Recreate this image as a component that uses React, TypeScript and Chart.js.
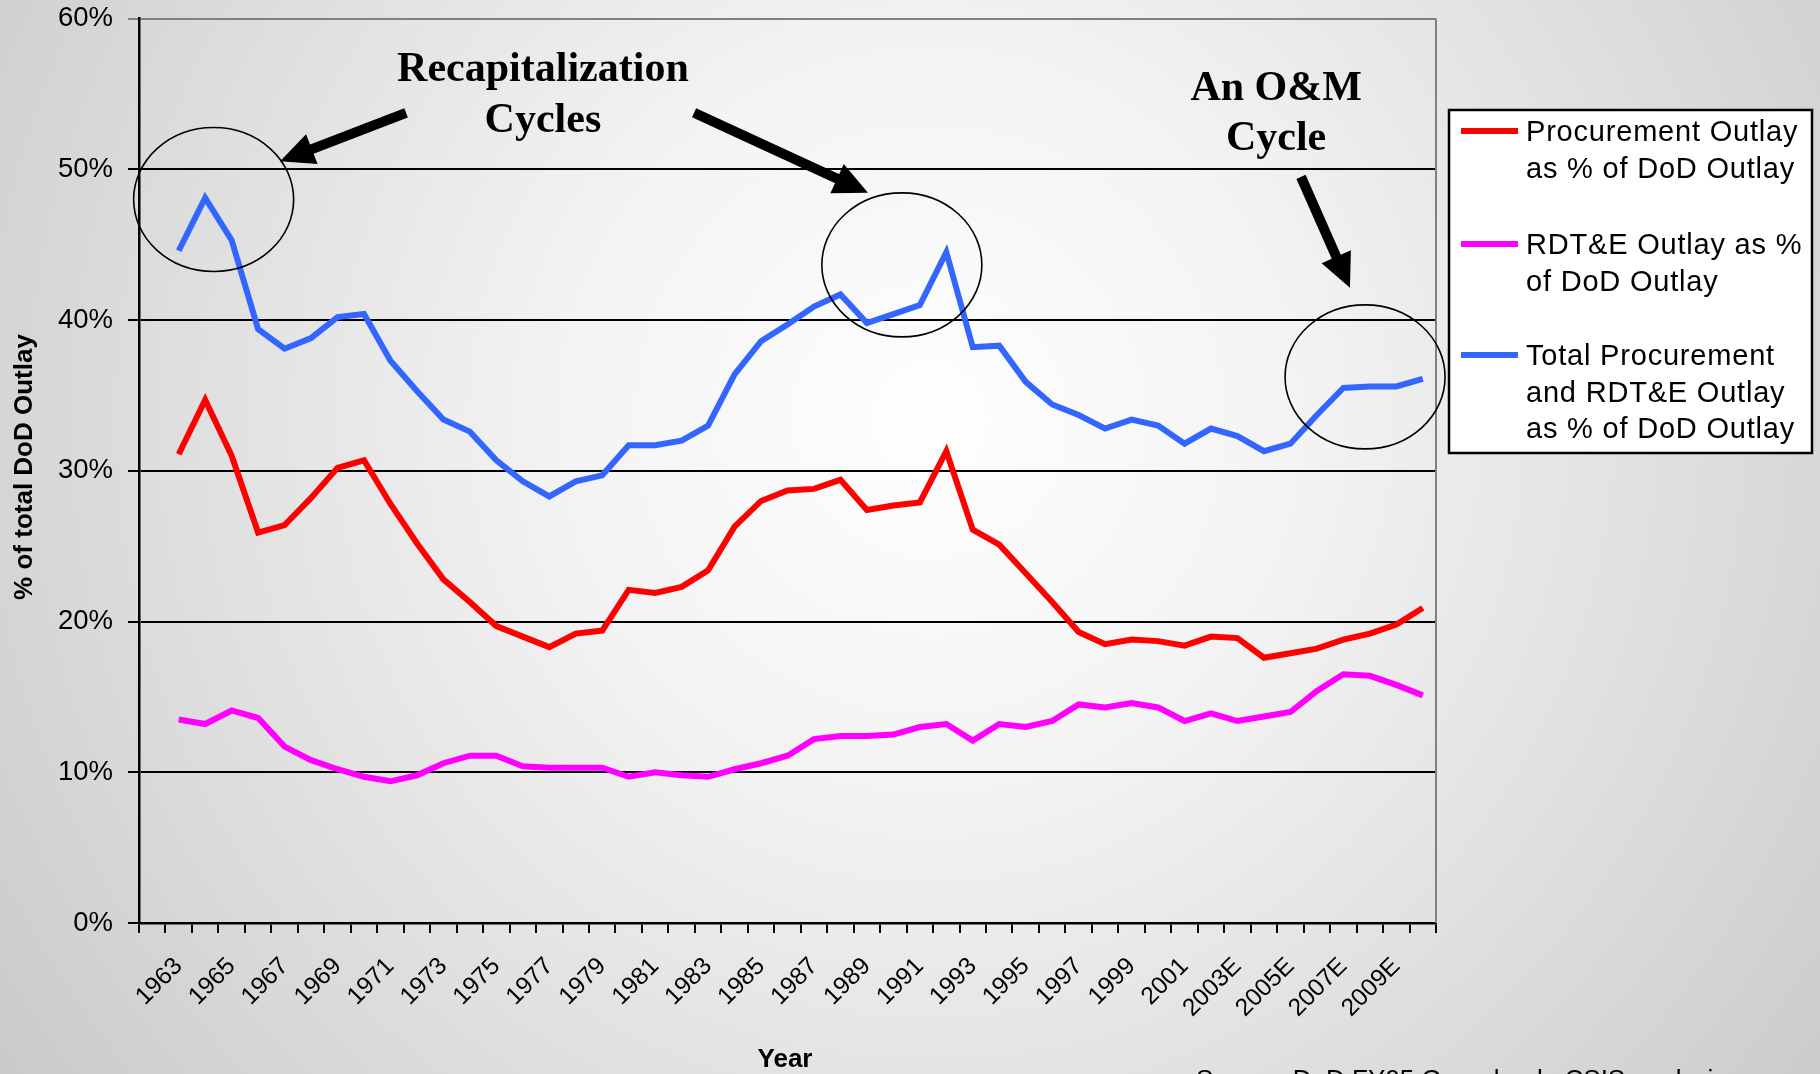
import { useEffect, useRef } from "react";
import { Chart, registerables } from "chart.js";

Chart.register(...registerables);

// ---------- data ----------
const categories = [
  "", "1963", "1964", "1965", "1966", "1967", "1968", "1969", "1970", "1971", "1972",
  "1973", "1974", "1975", "1976", "1977", "1978", "1979", "1980", "1981", "1982",
  "1983", "1984", "1985", "1986", "1987", "1988", "1989", "1990", "1991", "1992",
  "1993", "1994", "1995", "1996", "1997", "1998", "1999", "2000", "2001", "2002",
  "2003E", "2004E", "2005E", "2006E", "2007E", "2008E", "2009E", "2010E",
];

const procurement = [
  null, 31.1, 34.7, 31.0, 25.9, 26.4, 28.2, 30.2, 30.7, 27.8, 25.2,
  22.8, 21.3, 19.7, 19.0, 18.3, 19.2, 19.4, 22.1, 21.9, 22.3,
  23.4, 26.3, 28.0, 28.7, 28.8, 29.4, 27.4, 27.7, 27.9, 31.3,
  26.1, 25.1, 23.2, 21.3, 19.3, 18.5, 18.8, 18.7, 18.4, 19.0,
  18.9, 17.6, 17.9, 18.2, 18.8, 19.2, 19.8, 20.9,
];

const rdte = [
  null, 13.5, 13.2, 14.1, 13.6, 11.7, 10.8, 10.2, 9.7, 9.4, 9.8,
  10.6, 11.1, 11.1, 10.4, 10.3, 10.3, 10.3, 9.7, 10.0, 9.8,
  9.7, 10.2, 10.6, 11.1, 12.2, 12.4, 12.4, 12.5, 13.0, 13.2,
  12.1, 13.2, 13.0, 13.4, 14.5, 14.3, 14.6, 14.3, 13.4, 13.9,
  13.4, 13.7, 14.0, 15.4, 16.5, 16.4, 15.8, 15.1,
];

const totalProcRdte = [
  null, 44.6, 48.1, 45.3, 39.4, 38.1, 38.8, 40.2, 40.4, 37.3, 35.3,
  33.4, 32.6, 30.7, 29.3, 28.3, 29.3, 29.7, 31.7, 31.7, 32.0,
  33.0, 36.4, 38.6, 39.7, 40.9, 41.7, 39.8, 40.4, 41.0, 44.5,
  38.2, 38.3, 35.9, 34.4, 33.7, 32.8, 33.4, 33.0, 31.8, 32.8,
  32.3, 31.3, 31.8, 33.7, 35.5, 35.6, 35.6, 36.1,
];

const yMin = 0;
const yMax = 60;
const yStep = 10;

const seriesNames = [
  "Procurement Outlay as % of DoD Outlay",
  "RDT&E Outlay as % of DoD Outlay",
  "Total Procurement and RDT&E Outlay as % of DoD Outlay",
];
const legendLines = [
  ["Procurement Outlay", "as % of DoD Outlay"],
  ["RDT&E Outlay as %", "of DoD Outlay"],
  ["Total Procurement", "and RDT&E Outlay", "as % of DoD Outlay"],
];
const seriesColors = ["#FF0000", "#FF00FF", "#3366FF"];

const yTitle = "% of total DoD Outlay";
const xTitle = "Year";
const sourceNote = "Source: DoD FY05 Greenbook; CSIS analysis";

// annotations, in data coordinates (category index, percent)
const circleCenters = [
  [2.32, 48.0],
  [28.32, 43.66],
  [45.82, 36.23],
];
const arrowFrom = [
  [9.59, 53.75],
  [20.47, 53.75],
  [43.4, 49.5],
];
const arrowTo = [
  [4.83, 50.53],
  [27.04, 48.44],
  [45.25, 42.14],
];
const noteText = [
  ["Recapitalization", "Cycles"],
  ["An O&M", "Cycle"],
];
const noteX = [14.76, 42.46];
const noteBaselines = [
  [55.87, 52.49],
  [54.6, 51.3],
];

const SANS = '"Liberation Sans", Arial, sans-serif';
const SERIF = '"Liberation Serif", "Times New Roman", serif';

const W = 1820;
const H = 1074;

const backgroundPlugin = {
  id: "bgPlugin",
  beforeDraw(chart: any) {
    const { ctx } = chart;
    ctx.save();
    const g = ctx.createRadialGradient(930, 420, 40, 930, 420, 1150);
    g.addColorStop(0, "#fdfdfd");
    g.addColorStop(0.3, "#f3f3f3");
    g.addColorStop(0.62, "#e0e0e0");
    g.addColorStop(1, "#c9c9c9");
    ctx.fillStyle = g;
    ctx.fillRect(0, 0, chart.width, chart.height);
    ctx.restore();
  },
};

const decorPlugin = {
  id: "decorPlugin",
  afterDraw(chart: any) {
    const { ctx, chartArea } = chart;
    const xs = chart.scales.x;
    const ys = chart.scales.y;
    const px = (v: number) => xs.getPixelForValue(v);
    const py = (v: number) => ys.getPixelForValue(v);
    ctx.save();

    // right plot border (gray)
    ctx.strokeStyle = "#808080";
    ctx.lineWidth = 2;
    ctx.beginPath();
    ctx.moveTo(chartArea.right, chartArea.top);
    ctx.lineTo(chartArea.right, chartArea.bottom);
    ctx.stroke();

    // ellipses
    ctx.strokeStyle = "#000";
    ctx.lineWidth = 1.6;
    circleCenters.forEach(([cx, cy]) => {
      ctx.beginPath();
      ctx.ellipse(px(cx), py(cy), 80, 72, 0, 0, Math.PI * 2);
      ctx.stroke();
    });

    // arrows
    ctx.fillStyle = "#000";
    arrowFrom.forEach((f, i) => {
      const x1 = px(f[0]);
      const y1 = py(f[1]);
      const x2 = px(arrowTo[i][0]);
      const y2 = py(arrowTo[i][1]);
      const dx = x2 - x1;
      const dy = y2 - y1;
      const len = Math.hypot(dx, dy);
      const ux = dx / len;
      const uy = dy / len;
      const nx = -uy;
      const ny = ux;
      const headLen = 34;
      const headHalf = 16;
      const bx = x2 - ux * headLen;
      const by = y2 - uy * headLen;
      ctx.lineWidth = 10;
      ctx.lineCap = "butt";
      ctx.beginPath();
      ctx.moveTo(x1, y1);
      ctx.lineTo(bx + ux * 2, by + uy * 2);
      ctx.stroke();
      ctx.beginPath();
      ctx.moveTo(x2, y2);
      ctx.lineTo(bx + nx * headHalf, by + ny * headHalf);
      ctx.lineTo(bx - nx * headHalf, by - ny * headHalf);
      ctx.closePath();
      ctx.fill();
    });

    // annotation text
    ctx.font = `bold 42px ${SERIF}`;
    ctx.textAlign = "center";
    ctx.textBaseline = "alphabetic";
    ctx.fillStyle = "#000";
    noteText.forEach((lines, i) => {
      lines.forEach((t, j) => {
        ctx.fillText(t, px(noteX[i]), py(noteBaselines[i][j]));
      });
    });

    // axis titles
    ctx.font = `bold 26px ${SANS}`;
    ctx.textAlign = "center";
    ctx.textBaseline = "middle";
    ctx.save();
    ctx.translate(25, 467);
    ctx.rotate(-Math.PI / 2);
    ctx.fillText(yTitle, 0, 0);
    ctx.restore();
    ctx.fillText(xTitle, 785, 1060);

    // source note (partly cut by the bottom edge)
    ctx.font = `26px ${SANS}`;
    ctx.textAlign = "left";
    ctx.textBaseline = "top";
    ctx.fillText(sourceNote, 1196, 1068);

    // legend
    const lx = 1449;
    const ly = 110;
    const lw = 363;
    const lh = 343;
    ctx.fillStyle = "#ffffff";
    ctx.fillRect(lx, ly, lw, lh);
    ctx.strokeStyle = "#000";
    ctx.lineWidth = 2.5;
    ctx.strokeRect(lx, ly, lw, lh);
    const itemTops = [133, 246, 357];
    ctx.font = `29px ${SANS}`;
    ctx.textAlign = "left";
    ctx.textBaseline = "middle";
    (ctx as any).letterSpacing = "0.8px";
    legendLines.forEach((lines, i) => {
      const yy = itemTops[i];
      ctx.strokeStyle = seriesColors[i];
      ctx.lineWidth = 6;
      ctx.beginPath();
      ctx.moveTo(1461, yy - 2);
      ctx.lineTo(1518, yy - 2);
      ctx.stroke();
      ctx.fillStyle = "#000";
      lines.forEach((t, j) => {
        ctx.fillText(t, 1526, yy + j * 36.5);
      });
    });
    (ctx as any).letterSpacing = "0px";

    ctx.restore();
  },
};

export default function App() {
  const canvasRef = useRef<HTMLCanvasElement | null>(null);

  useEffect(() => {
    const canvas = canvasRef.current;
    if (!canvas) return;
    const datasets = [procurement, rdte, totalProcRdte].map((d, i) => ({
      label: seriesNames[i],
      data: d,
      borderColor: seriesColors[i],
      backgroundColor: seriesColors[i],
      borderWidth: 6,
      pointRadius: 0,
      pointHoverRadius: 0,
      tension: 0,
      fill: false,
      borderJoinStyle: "miter" as const,
      spanGaps: false,
    }));

    const chart = new Chart(canvas, {
      type: "line",
      data: { labels: categories, datasets },
      plugins: [backgroundPlugin, decorPlugin],
      options: {
        responsive: false,
        devicePixelRatio: 1,
        animation: false,
        events: [],
        layout: { padding: { left: 0, top: 18.6, right: W - 1436, bottom: 0 } },
        plugins: {
          legend: { display: false },
          tooltip: { enabled: false },
          title: { display: false },
        },
        scales: {
          x: {
            type: "category",
            offset: true,
            grid: {
              offset: true,
              drawOnChartArea: false,
              drawTicks: true,
              tickLength: 10,
              color: "#000",
              lineWidth: 2,
            },
            border: { display: true, color: "#000", width: 2.5 },
            ticks: {
              autoSkip: false,
              minRotation: 45,
              maxRotation: 45,
              padding: 19,
              color: "#000",
              font: { family: SANS, size: 24.5 },
              callback: (_v: any, index: number) => (index % 2 === 1 ? categories[index] : ""),
            },
            afterFit: (scale: any) => {
              scale.height = H - 923;
              scale.paddingLeft = 0;
              scale.paddingRight = 0;
            },
          },
          y: {
            min: yMin,
            max: yMax,
            grid: {
              color: (c: any) => (c.tick && c.tick.value === yMax ? "#808080" : "#000"),
              lineWidth: 2,
              tickLength: 11,
              drawTicks: true,
            },
            border: { display: true, color: "#000", width: 2.5 },
            ticks: {
              stepSize: yStep,
              padding: 15,
              color: "#000",
              font: { family: SANS, size: 27.5 },
              callback: (v: any) => `${v}%`,
            },
            afterFit: (scale: any) => {
              scale.width = 139;
              scale.paddingTop = 0;
              scale.paddingBottom = 0;
            },
          },
        },
      },
    });
    return () => chart.destroy();
  }, []);

  return (
    <div style={{ position: "fixed", left: 0, top: 0, width: W, height: H, overflow: "hidden" }}>
      <canvas ref={canvasRef} width={W} height={H} style={{ width: W, height: H, display: "block" }} />
    </div>
  );
}
